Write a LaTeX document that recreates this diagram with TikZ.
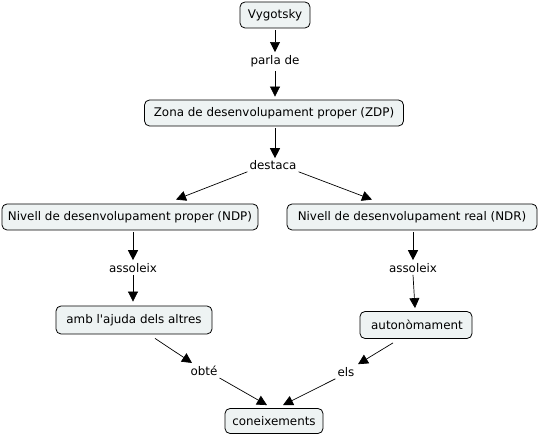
\documentclass[tikz,border=0pt]{standalone}
\usepackage{fontspec}
\setmainfont{DejaVu Sans}
\usetikzlibrary{arrows.meta}
\definecolor{boxfill}{HTML}{EEF3F3}
\tikzset{
  concept/.style={draw=black, line width=0.8pt, fill=boxfill, rounded corners=5pt,
    minimum height=26pt, inner xsep=4pt, inner ysep=2pt, font=\fontsize{11.9}{14}\selectfont},
  link/.style={inner sep=2pt, font=\fontsize{11.9}{14}\selectfont},
  arr/.style={-{Triangle[width=10pt,length=10pt]}, line width=0.7pt}
}
\begin{document}
\begin{tikzpicture}[x=1pt,y=-1pt]
\useasboundingbox (0,0) rectangle (539,435);
\node[concept, minimum width=70pt] (vyg) at (275,15) {Vygotsky};
\node[link] (parla) at (275,61) {parla de};
\node[concept, minimum width=259pt] (zdp) at (274,113) {Zona de desenvolupament proper (ZDP)};
\node[link] (dest) at (273,165) {destaca};
\node[concept, minimum width=256pt] (ndp) at (130,217) {Nivell de desenvolupament proper (NDP)};
\node[concept, minimum width=250pt] (ndr) at (412,217) {Nivell de desenvolupament real (NDR)};
\node[link] (asl) at (133,268) {assoleix};
\node[link] (asr) at (413,268) {assoleix};
\node[concept, minimum width=156pt, minimum height=28pt] (amb) at (134,320) {amb l\textquotesingle ajuda dels altres};
\node[concept, minimum width=112pt, minimum height=27pt] (aut) at (416,325) {\,autonòmament};
\node[link] (obte) at (204,371) {obté};
\node[link] (els) at (346,372) {els};
\node[concept, minimum width=98pt, minimum height=25pt] (con) at (274,421) {coneixements};

\draw[arr] ([yshift=-2pt]parla |- vyg.south) -- ([yshift=1pt]parla.north);
\draw[arr] ([yshift=-2pt]parla.south) -- ([yshift=3pt]parla |- zdp.north);
\draw[arr] ([yshift=-2pt]parla |- zdp.south) -- (parla |- dest.north);
\draw[arr] (dest.south west) -- ([xshift=46pt,yshift=4pt]ndp.north);
\draw[arr] (dest.south east) -- ([xshift=-40pt,yshift=4pt]ndr.north);
\draw[arr] ([yshift=-2pt]asl |- ndp.south) -- ([yshift=1pt]asl.north);
\draw[arr] (asl.south) -- ([yshift=4pt]asl |- amb.north);
\draw[arr] ([yshift=-2pt]asr |- ndr.south) -- ([yshift=1pt]asr.north);
\draw[arr] (asr.south) -- ([xshift=-1pt,yshift=3pt]aut.north);
\draw[arr] ([xshift=21pt,yshift=-4pt]amb.south) -- ([xshift=-12pt,yshift=1pt]obte.north);
\draw[arr] ([xshift=-23pt,yshift=-4pt]aut.south) -- ([xshift=12pt,yshift=1pt]els.north);
\draw[arr] (obte.south east) -- ([xshift=-7pt,yshift=3pt]con.north);
\draw[arr] (els.south west) -- ([xshift=9pt,yshift=3pt]con.north);
\end{tikzpicture}
\end{document}
